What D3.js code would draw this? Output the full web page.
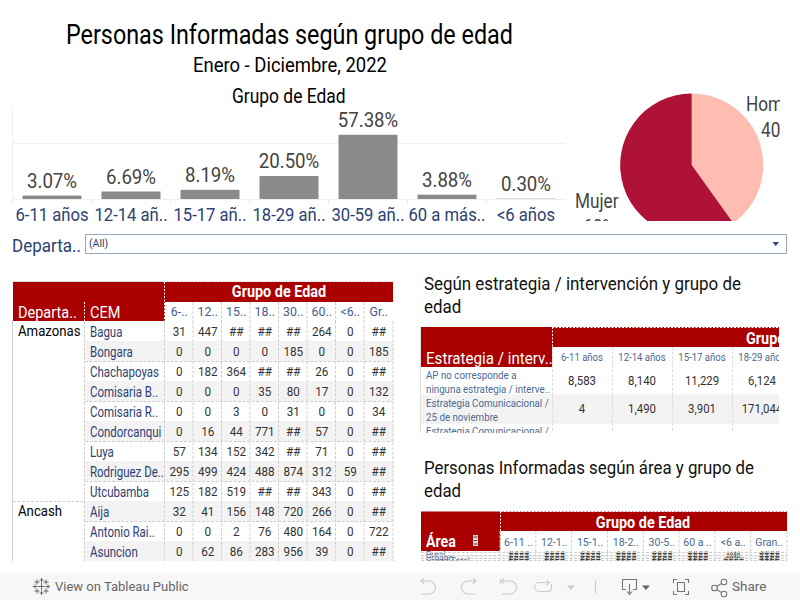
<!DOCTYPE html>
<html>
<head>
<meta charset="utf-8">
<script src="https://cdn.jsdelivr.net/npm/d3@7"></script>
<style>
  html, body { margin: 0; padding: 0; background: #fff; }
  svg { display: block; font-family: Roboto, sans-serif; }
</style>
</head>
<body>
<div id="container"></div>
<script>
// bar chart
const ageGroups = ["6-11 años", "12-14 añ..", "15-17 añ..", "18-29 añ..", "30-59 añ..", "60 a más..", "<6 años"];
const agePct = [3.07, 6.69, 8.19, 20.50, 57.38, 3.88, 0.30];

// pie
const sexLabels = ["Hombre", "Mujer"];
const sexPct = [40.1, 59.9];

// table by CEM
const cemHeaders = ["6-..", "12..", "15..", "18..", "30..", "60..", "<6..", "Gr.."];
const cemNames = ["Bagua", "Bongara", "Chachapoyas", "Comisaria B..", "Comisaria R..", "Condorcanqui", "Luya", "Rodriguez De..", "Utcubamba", "Aija", "Antonio Rai..", "Asuncion"];
const cemDepts = [["Amazonas", 0], ["Ancash", 9]];
const cemValues = [
  ["31", "447", "##", "##", "##", "264", "0", "##"],
  ["0", "0", "0", "0", "185", "0", "0", "185"],
  ["0", "182", "364", "##", "##", "26", "0", "##"],
  ["0", "0", "0", "35", "80", "17", "0", "132"],
  ["0", "0", "3", "0", "31", "0", "0", "34"],
  ["0", "16", "44", "771", "##", "57", "0", "##"],
  ["57", "134", "152", "342", "##", "71", "0", "##"],
  ["295", "499", "424", "488", "874", "312", "59", "##"],
  ["125", "182", "519", "##", "##", "343", "0", "##"],
  ["32", "41", "156", "148", "720", "266", "0", "##"],
  ["0", "0", "2", "76", "480", "164", "0", "722"],
  ["0", "62", "86", "283", "956", "39", "0", "##"]
];

// table by strategy
const stratHeaders = ["6-11 años", "12-14 años", "15-17 años", "18-29 años"];
const stratNames = [
  ["AP no corresponde a", "ninguna estrategia / interve.."],
  ["Estrategia Comunicacional /", "25 de noviembre"],
  ["Estrategia Comunicacional /", ""]
];
const stratValues = [
  ["8,583", "8,140", "11,229", "6,124"],
  ["4", "1,490", "3,901", "171,044"],
  ["", "", "", ""]
];

// table by area
const areaHeaders = ["6-11 ..", "12-1..", "15-1..", "18-2..", "30-5..", "60 a ..", "<6 a..", "Gran.."];
const areaNames = ["Rural", "Urbano", "Grand Total"];
const areaValues = [
  ["####", "####", "####", "####", "####", "####", "^^^^", "####"],
  ["####", "####", "####", "####", "####", "####", "^^^^", "####"],
  ["####", "####", "####", "####", "####", "####", "####", "####"]
];

const RED = "#aa0000", NAVY = "#2b4172", SLATE = "#4a6a94", GRID = "#cfcfcf", SHADE = "#f3f3f3";
const SQ = 0.86; // no Roboto Condensed here so squeeze the glyphs

const svg = d3.select("#container").append("svg").attr("width", 800).attr("height", 600);
const defs = svg.append("defs");

const clipped = (id, x, y, w, h) => {
  defs.append("clipPath").attr("id", id).append("rect")
    .attr("x", x).attr("y", y).attr("width", w).attr("height", h);
  return svg.append("g").attr("clip-path", `url(#${id})`);
};

const label = (g, str, x, y, size, color, anchor, weight, sq) => g.append("text")
  .attr("transform", `translate(${x},${y}) scale(${sq || SQ},1)`)
  .attr("text-anchor", anchor || "start")
  .attr("font-size", size)
  .attr("font-weight", weight || 400)
  .attr("fill", color)
  .text(str);

const dashed = (g, x1, y1, x2, y2, color, dash) => g.append("line")
  .attr("x1", x1).attr("y1", y1).attr("x2", x2).attr("y2", y2)
  .attr("stroke", color || GRID).attr("stroke-dasharray", dash || "3,1.5");

// TITLES
label(svg, "Personas Informadas según grupo de edad", 66, 44, 28, "#000", "start", 400, .834);
label(svg, "Enero - Diciembre, 2022", 193, 72, 20.5, "#000", "start", 400, .9);
label(svg, "Grupo de Edad", 232, 103, 20, "#000", "start", 400, .87);

// BARS
const x = d3.scaleBand().domain(ageGroups).range([12.5, 565.5]).paddingInner(20 / 79).paddingOuter(10 / 79);
const y = d3.scaleLinear().domain([0, 50]).range([199, 143]);
const bars = svg.append("g");

bars.append("line").attr("x1", 12.5).attr("x2", 12.5).attr("y1", 107).attr("y2", 204).attr("stroke", "#efefef");
[0, 50].forEach(t => {
  bars.append("line").attr("x1", 12.5).attr("x2", 565.5).attr("y1", y(t) + .5).attr("y2", y(t) + .5).attr("stroke", "#efefef");
});
ageGroups.forEach((d, i) => {
  const tx = 12.5 + i * 79;
  bars.append("line").attr("x1", tx).attr("x2", tx).attr("y1", 199).attr("y2", 204).attr("stroke", "#efefef");
});
bars.selectAll("rect").data(agePct).enter().append("rect")
  .attr("x", (d, i) => x(ageGroups[i]))
  .attr("y", d => y(d))
  .attr("width", x.bandwidth())
  .attr("height", d => y(0) - y(d))
  .attr("fill", "#8a8a8a");
agePct.forEach((d, i) => {
  const cx = x(ageGroups[i]) + x.bandwidth() / 2;
  label(bars, d.toFixed(2) + "%", cx, y(d) - 8, 20.5, "#444", "middle", 400, .91);
  label(bars, ageGroups[i], cx, 221, 18.5, NAVY, "middle", 400, .9);
});

// PIE
const pieG = clipped("pieClip", 570, 85, 210, 136);
const pie = d3.pie().sort(null);
const arc = d3.arc().innerRadius(0).outerRadius(71.5);
const pieColor = d3.scaleOrdinal().domain(sexLabels).range(["#ffbcb0", "#ae1237"]);
pieG.append("g").attr("transform", "translate(691.7,165)")
  .selectAll("path").data(pie(sexPct)).enter().append("path")
  .attr("d", arc)
  .attr("fill", (d, i) => pieColor(sexLabels[i]));
label(pieG, sexLabels[0], 746, 111, 20, "#444");
label(pieG, Math.round(sexPct[0]) + "%", 761, 137, 20, "#444");
label(pieG, sexLabels[1], 575, 208, 20, "#444");
label(pieG, Math.round(sexPct[1]) + "%", 583, 234, 20, "#444");

// FILTER
label(svg, "Departa..", 12, 252, 18.5, NAVY, "start", 400, .92);
svg.append("rect").attr("x", 85.5).attr("y", 234.5).attr("width", 701).attr("height", 19)
  .attr("fill", "#fff").attr("stroke", "#9aa8c4");
label(svg, "(All)", 89, 247, 10.5, NAVY, "start", 400, 1);
svg.append("path").attr("d", d3.line()([[772.5, 242], [779, 242], [775.7, 246]])).attr("fill", NAVY);

// TABLE BY CEM
const t1 = clipped("t1Clip", 12, 281, 383, 280);
const t1Col = d3.scaleBand().domain(cemHeaders).range([165, 393]);
const t1Row = d3.scaleBand().domain(cemNames).range([321, 561]);

t1.append("rect").attr("x", 13).attr("y", 282).attr("width", 380).attr("height", 39).attr("fill", RED);
t1.append("rect").attr("x", 165).attr("y", 302).attr("width", 228).attr("height", 19).attr("fill", "#fff");
t1.append("line").attr("x1", 12.5).attr("x2", 393).attr("y1", 281.5).attr("y2", 281.5).attr("stroke", "#d8d8d8");
dashed(t1, 165, 281.5, 393, 281.5, "#fff", "2,1.5");
dashed(t1, 164.5, 282, 164.5, 321, "#fff", "2,1.5");
dashed(t1, 84.5, 302, 84.5, 321, "#fff", "2,1.5");
label(t1, "Grupo de Edad", 279, 297, 16, "#fff", "middle", 700, .9);
label(t1, "Departa..", 18, 318, 16.5, "#fff", "start", 400, .88);
label(t1, "CEM", 90, 318, 16.5, "#fff", "start", 400, .88);
cemHeaders.forEach(h => label(t1, h, t1Col(h) + t1Col.bandwidth() / 2, 316, 13, "#3f5c8c", "middle", 400, .95));

cemNames.forEach((name, r) => {
  const ry = t1Row(name);
  if (r % 2 == 1) t1.append("rect").attr("x", 85).attr("y", ry).attr("width", 308).attr("height", 20).attr("fill", SHADE);
  dashed(t1, 85, ry + 20.5, 393, ry + 20.5);
  label(t1, name, 90, ry + 15.5, 14, NAVY, "start", 400, .82);
  cemValues[r].forEach((v, c) => {
    const h = cemHeaders[c];
    label(t1, v, t1Col(h) + t1Col.bandwidth() / 2, ry + 14.5, 13, "#333", "middle", 400, .9);
  });
});
cemDepts.forEach(([name, r]) => {
  const ry = t1Row(cemNames[r]);
  label(t1, name, 18, ry + 15, 15, "#000", "start", 400, .88);
  if (r > 0) dashed(t1, 13, ry + .5, 85, ry + .5);
});
t1.append("line").attr("x1", 12.5).attr("x2", 12.5).attr("y1", 321).attr("y2", 561).attr("stroke", GRID);
[84.5].concat(cemHeaders.map(h => t1Col(h) - .5), [393]).forEach(px => dashed(t1, px, 321, px, 561));
cemHeaders.slice(1).forEach(h => dashed(t1, t1Col(h) - .5, 302, t1Col(h) - .5, 321));

// TABLE BY STRATEGY
label(svg, "Según estrategia / intervención y grupo de", 424, 290, 18.5, "#111", "start", 400, .915);
label(svg, "edad", 424, 313, 18.5, "#111", "start", 400, .915);
const t2 = clipped("t2Clip", 420, 326, 359, 107);
const t2Col = d3.scaleBand().domain(stratHeaders).range([552, 792]);
const t2Row = d3.scaleBand().domain(d3.range(stratNames.length)).range([367, 451]);

t2.append("rect").attr("x", 421).attr("y", 327).attr("width", 371).attr("height", 40).attr("fill", RED);
t2.append("rect").attr("x", 552).attr("y", 347).attr("width", 240).attr("height", 20).attr("fill", "#fff");
dashed(t2, 552.5, 327, 552.5, 367, "#fff", "2,1.5");
dashed(t2, 552, 327.5, 792, 327.5, "#fff", "2,1.5");
label(t2, "Grupo de Edad", 746, 344, 16, "#fff", "start", 700, .9);
label(t2, "Estrategia / interv..", 426, 364, 16.5, "#fff", "start", 400, .92);
stratHeaders.forEach(h => label(t2, h, t2Col(h) + t2Col.bandwidth() / 2, 361, 11, SLATE, "middle", 400, .87));

stratNames.forEach((lines, r) => {
  const ry = t2Row(r);
  if (r % 2 == 1) t2.append("rect").attr("x", 421).attr("y", ry).attr("width", 371).attr("height", 28).attr("fill", SHADE);
  dashed(t2, 421, ry + 28, 792, ry + 28, "#e4e4e4");
  lines.forEach((s, i) => label(t2, s, 426, ry + 11.5 + i * 14, 10.5, SLATE, "start", 400, .93));
  stratValues[r].forEach((v, c) => {
    const h = stratHeaders[c];
    label(t2, v, t2Col(h) + t2Col.bandwidth() / 2, ry + 18, 12, "#333", "middle", 400, .95);
  });
});
stratHeaders.forEach(h => dashed(t2, t2Col(h) + .5, 347, t2Col(h) + .5, 433, "#dcdcdc"));
t2.append("line").attr("x1", 420.5).attr("x2", 420.5).attr("y1", 327).attr("y2", 433).attr("stroke", "#e0e0e0");

// TABLE BY AREA
label(svg, "Personas Informadas según área y grupo de", 424, 474, 18.5, "#111", "start", 400, .91);
label(svg, "edad", 424, 497, 18.5, "#111", "start", 400, .91);
const t3 = clipped("t3Clip", 420, 511, 369, 50);
const t3Col = d3.scaleBand().domain(areaHeaders).range([500.5, 787]);
const t3Row = d3.scaleBand().domain(areaNames).range([552, 561]);

t3.append("rect").attr("x", 421).attr("y", 511.5).attr("width", 366).attr("height", 39.5).attr("fill", RED);
t3.append("rect").attr("x", 500.5).attr("y", 531).attr("width", 286.5).attr("height", 20).attr("fill", "#fff");
dashed(t3, 500.5, 511.5, 787, 511.5, "#fff", "2,1.5");
dashed(t3, 500.5, 511.5, 500.5, 551, "#fff", "2,1.5");
label(t3, "Grupo de Edad", 643, 528, 16, "#fff", "middle", 700, .9);
label(t3, "Área", 426, 547, 16.5, "#fff", "start", 700);
t3.append("rect").attr("x", 473).attr("y", 535).attr("width", 5).attr("height", 11).attr("fill", "#ddd");
t3.append("path").attr("d", "M473.5 537H477.5M474 540.5H477M473.5 544H477.5").attr("stroke", "#444").attr("stroke-width", 1.2);
areaHeaders.forEach(h => label(t3, h, t3Col(h) + t3Col.bandwidth() / 2, 546, 11.5, SLATE, "middle", 400, .92));

areaNames.forEach((name, r) => {
  const ry = t3Row(name);
  if (r == 1) t3.append("rect").attr("x", 421).attr("y", ry).attr("width", 366).attr("height", 3).attr("fill", SHADE);
  label(t3, name, 426, ry + 6, 9, SLATE, "start", 400, .95);
  areaValues[r].forEach((v, c) => {
    const h = areaHeaders[c];
    label(t3, v, t3Col(h) + t3Col.bandwidth() / 2, ry + 6, 9, "#333", "middle", 400, .95);
  });
  dashed(t3, 421, ry + .5, 787, ry + .5);
});
dashed(t3, 421, 560.5, 787, 560.5);
areaHeaders.forEach(h => dashed(t3, t3Col(h) - .5, 531, t3Col(h) - .5, 561));
dashed(t3, 787, 531, 787, 561);

// TOOLBAR
const bar = svg.append("g");
bar.append("rect").attr("x", 0).attr("y", 573).attr("width", 800).attr("height", 27).attr("fill", "#f7f7f7");
label(bar, "View on Tableau Public", 55, 591, 13, "#666", "start", 400, 1);
label(bar, "Share", 732, 591, 13.5, "#666", "start", 400, 1);

// tableau logo, crosses
[[41.5, 586.5, 4], [41.5, 580, 2], [41.5, 593, 2], [35, 586.5, 2], [48, 586.5, 2],
 [37, 582, 2.5], [46, 582, 2.5], [37, 591, 2.5], [46, 591, 2.5]].forEach(([cx, cy, s]) => {
  bar.append("path").attr("d", `M${cx - s} ${cy}H${cx + s}M${cx} ${cy - s}V${cy + s}`)
    .attr("stroke", "#666").attr("fill", "none");
});

const icon = (d, color) => bar.append("path").attr("d", d)
  .attr("fill", "none").attr("stroke", color).attr("stroke-width", 1.1);
const tri = (x0, color) => bar.append("path")
  .attr("d", `M${x0} 585.5h8l-4 4.5z`).attr("fill", color);

// disabled buttons
icon("M424 578.5L421 581L424 583.5M421 581H429A6.5 6.5 0 0 1 429 594H421", "#ccc"); // undo
icon("M473 578.5L476 581L473 583.5M476 581H468A6.5 6.5 0 0 0 468 594H476", "#ccc"); // redo
icon("M500.5 579V584M504 578.5L501.5 581L504 583.5M502 581H510A6.5 6.5 0 0 1 510 594H502", "#ccc"); // revert
icon("M549 582.5H539A3.5 3.5 0 0 0 539 591.5H548A3.5 3.5 0 0 0 551.5 588V584M546.5 580L549.5 582.5L546.5 585", "#ccc"); // refresh
tri(567, "#ccc");
icon("M595.5 580V593", "#ccc");

// download, fullscreen, share
icon("M626 589.5H622.5V579.5H636.5V589.5H633M629.5 584V594M627 591.5L629.5 594.5L632 591.5", "#777");
tri(642, "#666");
icon("M673.5 583V579.5H677M685 579.5H688.5V583M688.5 591V594.5H685M677 594.5H673.5V591", "#777");
icon("M677.5 582.5H684.5V591.5H677.5Z", "#777");
icon("M716.5 586.5L721.5 583.5M716.5 589.5L721.5 592.5", "#777");
[[714.5, 588], [724, 582], [724, 594]].forEach(([cx, cy]) => {
  bar.append("circle").attr("cx", cx).attr("cy", cy).attr("r", 2.8)
    .attr("fill", "none").attr("stroke", "#777").attr("stroke-width", 1.1);
});
</script>
</body>
</html>
